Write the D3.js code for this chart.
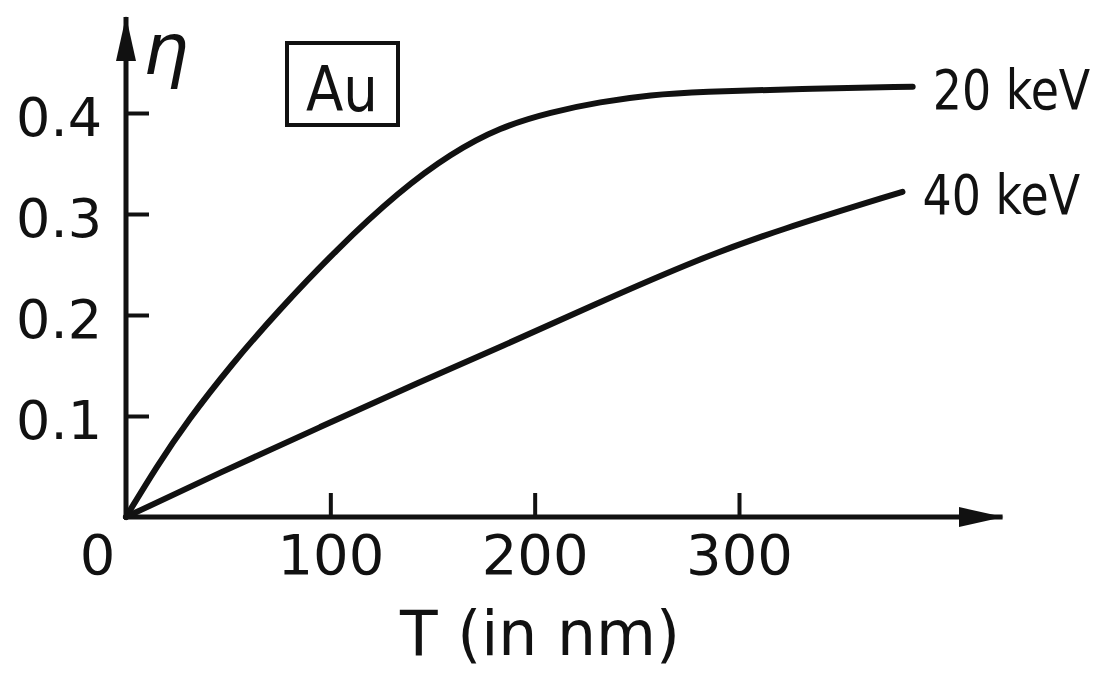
<!DOCTYPE html>
<html>
<head>
<meta charset="utf-8">
<script src="https://cdn.jsdelivr.net/npm/d3@7"></script>
<style>
  body { margin: 0; background: #fff; }
  text { font-family: "DejaVu Sans", sans-serif; fill: #111; }
</style>
</head>
<body>
<div id="chart"></div>
<script>
const W = 1115,
  H = 677,
  ink = "#111";

// thickness T (nm) and backscatter fraction eta
const t20 = [0, 15, 30, 52, 74, 103, 134, 159, 183, 208, 232, 257, 281, 330, 385];
const eta20 = [0, 0.050, 0.095, 0.152, 0.203, 0.265, 0.323, 0.360, 0.386, 0.401, 0.411, 0.418, 0.421, 0.424, 0.426];
const t40 = [0, 46, 95, 144, 183, 232, 281, 319, 380];
const eta40 = [0, 0.044, 0.089, 0.134, 0.168, 0.213, 0.256, 0.284, 0.322];

const series = [
  { label: "20 keV", t: t20, eta: eta20 },
  { label: "40 keV", t: t40, eta: eta40 }
];

const xTicks = [0, 100, 200, 300];
const yTicks = [0.1, 0.2, 0.3, 0.4];

const x = d3.scaleLinear().domain([0, 300]).range([126, 739]);
const y = d3.scaleLinear().domain([0, 0.4]).range([517, 113]);
const xEnd = 429,
  yEnd = 0.495;

const svg = d3
  .select("#chart")
  .append("svg")
  .attr("width", W)
  .attr("height", H);

const defs = svg.append("defs");
defs
  .append("marker")
  .attr("id", "arrow")
  .attr("viewBox", "0 0 45 20")
  .attr("refX", 44)
  .attr("refY", 10)
  .attr("markerWidth", 45)
  .attr("markerHeight", 20)
  .attr("markerUnits", "userSpaceOnUse")
  .attr("orient", "auto")
  .append("path")
  .attr("d", "M0,0 L45,10 L0,20 Z")
  .attr("fill", ink);

// axis lines with arrow heads
svg
  .append("line")
  .attr("x1", x(0) - 2)
  .attr("x2", x(xEnd))
  .attr("y1", y(0))
  .attr("y2", y(0))
  .attr("stroke", ink)
  .attr("stroke-width", 5)
  .attr("marker-end", "url(#arrow)");

svg
  .append("line")
  .attr("x1", x(0))
  .attr("x2", x(0))
  .attr("y1", y(0) + 2)
  .attr("y2", y(yEnd))
  .attr("stroke", ink)
  .attr("stroke-width", 5)
  .attr("marker-end", "url(#arrow)");

// x axis ticks point up into the plot
const gx = svg
  .append("g")
  .attr("transform", "translate(0," + y(0) + ")")
  .call(
    d3
      .axisBottom(x)
      .tickValues(xTicks)
      .tickFormat(d3.format("d"))
      .tickSizeInner(-24)
      .tickSizeOuter(0)
      .tickPadding(17)
  );
gx.select(".domain").remove();
gx.selectAll("line").attr("stroke", ink).attr("stroke-width", 4);
gx.selectAll(".tick").filter(d => d === 0).select("line").remove();
gx.selectAll(".tick").filter(d => d === 0).select("text").attr("dx", -29);
gx.selectAll("text").attr("font-size", 56).attr("fill", ink);

const gy = svg
  .append("g")
  .attr("transform", "translate(" + x(0) + ",0)")
  .call(
    d3
      .axisLeft(y)
      .tickValues(yTicks)
      .tickFormat(d3.format(".1f"))
      .tickSizeInner(-23)
      .tickSizeOuter(0)
      .tickPadding(24)
  );
gy.select(".domain").remove();
gy.selectAll("line").attr("stroke", ink).attr("stroke-width", 4);
gy.selectAll("text").attr("font-size", 54).attr("fill", ink).attr("dy", "0.42em");

// curves
const line = d3
  .line()
  .x(d => x(d[0]))
  .y(d => y(d[1]))
  .curve(d3.curveBasis);

series.forEach(s => {
  const pts = s.t.map((t, i) => [t, s.eta[i]]);
  svg
    .append("path")
    .attr("d", line(pts))
    .attr("fill", "none")
    .attr("stroke", ink)
    .attr("stroke-width", 6)
    .attr("stroke-linecap", "round");

  // label squeezed a bit horizontally, like the lettering in the figure
  const last = pts[pts.length - 1];
  svg
    .append("text")
    .attr(
      "transform",
      "translate(" + (x(last[0]) + 20) + "," + (y(last[1]) + 22) + ") scale(0.82,1)"
    )
    .attr("font-size", 56)
    .text(s.label);
});

// axis titles
svg
  .append("text")
  .attr("x", 540)
  .attr("y", 655)
  .attr("text-anchor", "middle")
  .attr("font-size", 62)
  .attr("textLength", 280)
  .attr("lengthAdjust", "spacingAndGlyphs")
  .text("T  (in nm)");

svg
  .append("text")
  .attr("x", 143)
  .attr("y", 74)
  .attr("font-size", 72)
  .attr("font-style", "italic")
  .text("η");

// material box
svg
  .append("rect")
  .attr("x", 287)
  .attr("y", 43)
  .attr("width", 111)
  .attr("height", 82)
  .attr("fill", "none")
  .attr("stroke", ink)
  .attr("stroke-width", 4);

svg
  .append("text")
  .attr("x", 342)
  .attr("y", 111)
  .attr("text-anchor", "middle")
  .attr("font-size", 62)
  .attr("textLength", 72)
  .attr("lengthAdjust", "spacingAndGlyphs")
  .text("Au");
</script>
</body>
</html>
